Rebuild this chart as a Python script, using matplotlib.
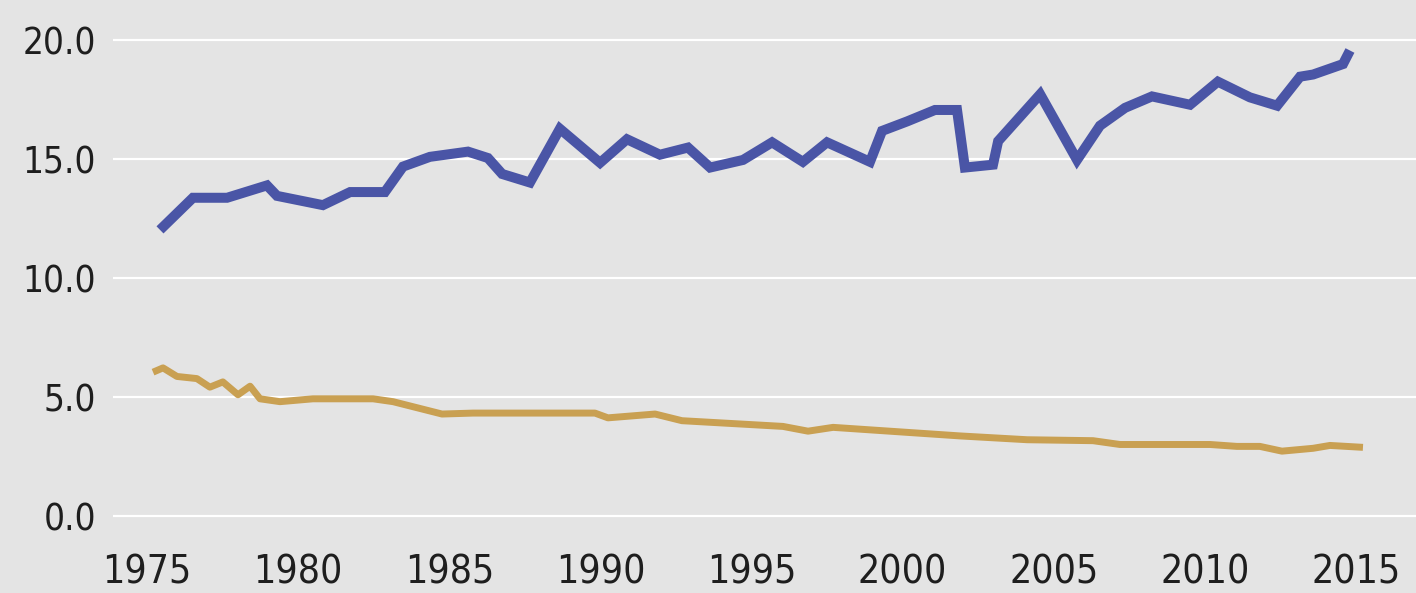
import matplotlib.pyplot as plt

# Blue series (years, values in %)
blue_years = [1975.43, 1976.52, 1977.65, 1978.97, 1979.30, 1980.82, 1981.72, 1982.87,
              1983.47, 1984.36, 1985.62, 1986.28, 1986.75, 1987.67, 1988.66, 1989.99,
              1990.88, 1991.97, 1992.90, 1993.63, 1994.72, 1995.68, 1996.70, 1997.50,
              1998.92, 1999.32, 2000.15, 2001.07, 2001.80, 2002.06, 2002.99, 2003.16,
              2004.55, 2005.77, 2006.53, 2007.36, 2008.25, 2009.51, 2010.43, 2011.49,
              2012.39, 2013.15, 2013.58, 2014.57, 2014.80]
blue_vals = [12.02, 13.37, 13.37, 13.89, 13.45, 13.06, 13.61, 13.61,
             14.68, 15.09, 15.31, 15.04, 14.37, 14.01, 16.27, 14.84,
             15.83, 15.18, 15.48, 14.64, 14.96, 15.70, 14.88, 15.70,
             14.88, 16.18, 16.58, 17.06, 17.06, 14.64, 14.76, 15.75,
             17.72, 14.96, 16.40, 17.15, 17.63, 17.28, 18.25, 17.59,
             17.24, 18.46, 18.55, 18.99, 19.56]

# Gold series
gold_years = [1975.20, 1975.53, 1975.99, 1976.65, 1977.08, 1977.51, 1978.01, 1978.41,
              1978.74, 1979.40, 1980.49, 1982.48, 1983.14, 1984.76, 1985.79, 1989.82,
              1990.25, 1991.81, 1992.70, 1996.04, 1996.87, 1997.70, 2001.90, 2004.12,
              2006.30, 2007.19, 2010.17, 2011.06, 2011.82, 2012.55, 2013.58, 2014.14,
              2015.23]
gold_vals = [6.04, 6.22, 5.86, 5.77, 5.41, 5.63, 5.09, 5.45,
             4.92, 4.80, 4.92, 4.92, 4.80, 4.28, 4.32, 4.32,
             4.12, 4.28, 4.00, 3.76, 3.56, 3.72, 3.36, 3.20,
             3.16, 3.00, 3.00, 2.92, 2.92, 2.72, 2.84, 2.96,
             2.88]

x_ticks = [1975, 1980, 1985, 1990, 1995, 2000, 2005, 2010, 2015]
y_ticks = [0, 5, 10, 15, 20]

bg = '#e4e4e4'
plt.rcParams['font.family'] = ['DejaVu Sans']
plt.rcParams['font.stretch'] = 'condensed'

fig = plt.figure(figsize=(14.16, 5.93), dpi=100, facecolor=bg)
ax = fig.add_axes([113 / 1416, 0.106, 1 - 113 / 1416, 0.9646 - 0.106])
ax.set_facecolor(bg)

ax.plot(blue_years, blue_vals, color='#4a55a6', lw=7.2, solid_joinstyle='miter',
        solid_capstyle='butt', zorder=3)
ax.plot(gold_years, gold_vals, color='#c9a052', lw=5.0, solid_joinstyle='round',
        solid_capstyle='butt', zorder=3)

ax.set_xlim(1973.875, 2016.985)
ax.set_ylim(-0.6, 20.8)
ax.set_xticks(x_ticks)
ax.set_yticks(y_ticks)
ax.set_yticklabels([f'{v:.1f}' for v in y_ticks])
ax.grid(axis='y', color='white', lw=1.6, zorder=1)
ax.grid(axis='x', visible=False)
ax.tick_params(axis='both', length=0, colors='#1e1e1e')
ax.tick_params(axis='y', labelsize=26.5, pad=12)
ax.tick_params(axis='x', labelsize=28, pad=17)
for s in ax.spines.values():
    s.set_visible(False)

fig.savefig('out.png', dpi=100, facecolor=bg)
